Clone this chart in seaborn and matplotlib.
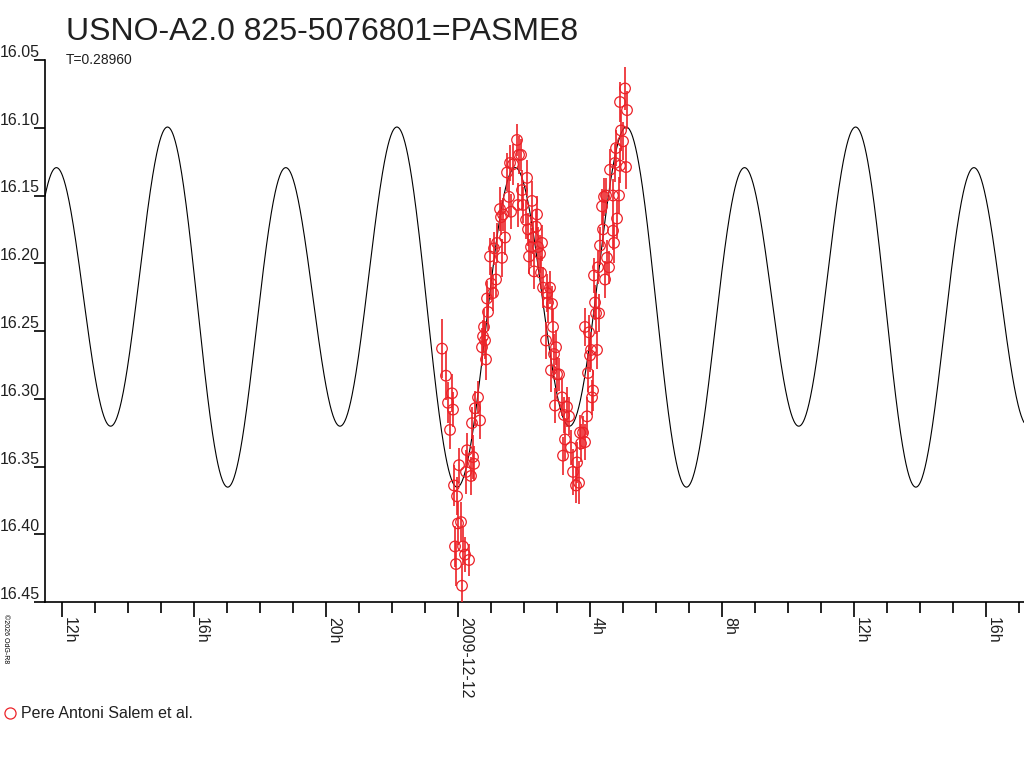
import numpy as np
import pandas as pd
import matplotlib
matplotlib.use('Agg')
import matplotlib.pyplot as plt
import seaborn as sns

# Observations: hours from 2009-12-12 00:00, magnitude, error
obs_hours = [-0.485, -0.364, -0.303, -0.242, -0.182, -0.152, -0.121, -0.091, -0.061, -0.030,
             0.000, 0.091, 0.121, 0.152, 0.030, 0.212, 0.242, 0.273, 0.333, 0.394,
             0.455, 0.485, 0.424, 0.515, 0.606, 0.667, 0.727, 0.758, 0.788, 0.818,
             0.848, 0.879, 0.909, 1.000, 1.061, 0.970, 1.091, 1.152, 1.182, 1.273,
             1.303, 1.333, 1.364, 1.424, 1.485, 1.576, 1.545, 1.606, 1.667, 1.788,
             1.818, 1.848, 1.939, 1.909, 1.970, 2.091, 2.061, 2.121, 2.152, 2.242,
             2.212, 2.273, 2.303, 2.394, 2.364, 2.424, 2.485, 2.545, 2.515, 2.576,
             2.697, 2.788, 2.848, 2.727, 2.879, 2.667, 2.970, 2.909, 2.818, 3.000,
             3.061, 3.152, 2.939, 3.303, 3.212, 3.364, 3.242, 3.424, 3.182, 3.606,
             3.485, 3.667, 3.576, 3.697, 3.727, 3.848, 3.788, 3.909, 4.091, 4.061,
             3.939, 4.030, 4.212, 4.000, 3.848, 3.970, 4.182, 4.152, 4.273, 4.121,
             4.242, 4.455, 4.515, 4.576, 4.303, 4.727, 4.394, 4.697, 4.818, 4.364,
             4.424, 4.485, 4.697, 4.879, 4.606, 4.758, 4.909, 5.091, 4.788, 5.000,
             4.939, 5.121, 4.909, 5.061]
obs_mag = [16.263, 16.283, 16.303, 16.323, 16.296, 16.308, 16.364, 16.409, 16.422, 16.372,
           16.392, 16.391, 16.438, 16.409, 16.349, 16.415, 16.354, 16.338, 16.419, 16.357,
           16.343, 16.348, 16.318, 16.307, 16.299, 16.316, 16.262, 16.254, 16.247, 16.257,
           16.271, 16.226, 16.236, 16.215, 16.222, 16.195, 16.189, 16.212, 16.185, 16.160,
           16.166, 16.196, 16.164, 16.181, 16.133, 16.126, 16.151, 16.162, 16.127, 16.109,
           16.157, 16.120, 16.146, 16.120, 16.157, 16.137, 16.168, 16.175, 16.195, 16.154,
           16.188, 16.181, 16.206, 16.164, 16.173, 16.188, 16.193, 16.185, 16.207, 16.218,
           16.222, 16.218, 16.230, 16.229, 16.247, 16.257, 16.262, 16.267, 16.279, 16.282,
           16.282, 16.299, 16.305, 16.306, 16.312, 16.313, 16.330, 16.336, 16.342, 16.347,
           16.354, 16.362, 16.364, 16.325, 16.333, 16.332, 16.325, 16.313, 16.294, 16.299,
           16.281, 16.264, 16.264, 16.268, 16.247, 16.251, 16.237, 16.229, 16.237, 16.209,
           16.203, 16.212, 16.196, 16.203, 16.187, 16.185, 16.175, 16.176, 16.167, 16.158,
           16.151, 16.150, 16.150, 16.150, 16.131, 16.126, 16.128, 16.129, 16.115, 16.110,
           16.102, 16.087, 16.081, 16.071]
obs_err = [0.022, 0.018, 0.015, 0.014, 0.014, 0.013, 0.015, 0.015, 0.016, 0.014,
           0.016, 0.015, 0.016, 0.014, 0.013, 0.013, 0.016, 0.013, 0.012, 0.014,
           0.016, 0.013, 0.012, 0.013, 0.012, 0.014, 0.014, 0.012, 0.013, 0.014,
           0.015, 0.013, 0.014, 0.012, 0.013, 0.014, 0.012, 0.013, 0.015, 0.016,
           0.013, 0.014, 0.012, 0.013, 0.014, 0.013, 0.014, 0.013, 0.015, 0.012,
           0.016, 0.014, 0.015, 0.012, 0.013, 0.013, 0.014, 0.012, 0.013, 0.015,
           0.014, 0.012, 0.013, 0.014, 0.012, 0.015, 0.014, 0.013, 0.012, 0.015,
           0.014, 0.012, 0.013, 0.015, 0.013, 0.014, 0.013, 0.015, 0.016, 0.013,
           0.012, 0.014, 0.013, 0.015, 0.013, 0.014, 0.016, 0.013, 0.014, 0.015,
           0.017, 0.016, 0.013, 0.013, 0.014, 0.013, 0.012, 0.014, 0.015, 0.013,
           0.014, 0.013, 0.014, 0.012, 0.014, 0.013, 0.015, 0.013, 0.014, 0.013,
           0.012, 0.014, 0.013, 0.012, 0.014, 0.015, 0.013, 0.014, 0.014, 0.013,
           0.014, 0.013, 0.012, 0.014, 0.015, 0.014, 0.013, 0.016, 0.013, 0.014,
           0.015, 0.014, 0.015, 0.016]

# Fitted light curve: period T (days), epoch of the brighter maximum (hours),
# mean magnitude and harmonic amplitudes
period_days = 0.28960
epoch_hours = -1.80
fit_mean = 16.22875
fit_cos = [-0.015, -0.11375]
fit_sin = [0.0225, 0.0]

tick_hours = [-12, -8, -4, 0, 4, 8, 12, 16]
tick_labels = ['12h', '16h', '20h', '2009-12-12', '4h', '8h', '12h', '16h']
mag_ticks = [16.05, 16.10, 16.15, 16.20, 16.25, 16.30, 16.35, 16.40, 16.45]

sns.set_theme(style='white')
plt.rcParams['font.family'] = ['Liberation Sans', 'DejaVu Sans']

red = '#ec2228'
x_min, x_max = -12.515, 17.15
grid = np.linspace(x_min, x_max, 2000)
phase = (grid - epoch_hours) / (period_days * 24)
model = fit_mean + sum(fit_cos[k] * np.cos(2 * np.pi * (k + 1) * phase)
                       + fit_sin[k] * np.sin(2 * np.pi * (k + 1) * phase) for k in range(2))
curve = pd.DataFrame({'hours': grid, 'mag': model})
obs = pd.DataFrame({'hours': obs_hours, 'mag': obs_mag, 'err': obs_err})

fig = plt.figure(figsize=(10.24, 7.68), dpi=100)
ax = fig.add_axes([45 / 1024, 1 - 602 / 768, 1 - 45 / 1024, 542 / 768])

sns.lineplot(data=curve, x='hours', y='mag', color='black', linewidth=0.8, ax=ax)
ax.errorbar(obs['hours'], obs['mag'], yerr=obs['err'], fmt='none',
            ecolor=red, elinewidth=1.2, capsize=0, zorder=3)
sns.scatterplot(data=obs, x='hours', y='mag', marker='o', s=58,
                facecolors='none', edgecolor=red, linewidth=0.9, ax=ax, zorder=4)

ax.set_xlim(x_min, x_max)
ax.set_ylim(16.45, 16.05)
ax.set_xlabel('')
ax.set_ylabel('')

for side in ['top', 'right']:
    ax.spines[side].set_visible(False)
for side in ['left', 'bottom']:
    ax.spines[side].set_color('black')
    ax.spines[side].set_linewidth(1.2)

ax.set_yticks(mag_ticks)
ax.set_yticklabels([f'{v:.2f}' for v in mag_ticks], fontsize=11.5, va='bottom', color='#202020')
ax.tick_params(axis='y', left=True, length=8, width=1.2, color='black', pad=-4)

ax.set_xticks(tick_hours)
ax.set_xticks(np.arange(-12, 18, 1), minor=True)
ax.set_xticklabels(tick_labels, fontsize=11.5, rotation=270, ha='left', va='top', color='#202020')
ax.tick_params(axis='x', which='major', bottom=True, length=11, width=1.2, color='black', pad=0)
ax.tick_params(axis='x', which='minor', bottom=True, length=8, width=1.2, color='black')
for lab in ax.get_xticklabels():
    lab.set_x(lab.get_position()[0])

fig.text(66 / 1024, 1 - 40 / 768, 'USNO-A2.0 825-5076801=PASME8', fontsize=23,
         ha='left', va='baseline', color='#202020')
fig.text(66 / 1024, 1 - 64 / 768, 'T=0.28960', fontsize=10, ha='left', va='baseline',
         color='#202020')
fig.text(2 / 1024, 1 - 614 / 768, '©2026 OdG-R8', fontsize=5, rotation=270,
         ha='left', va='top', color='black')

fig.lines.append(plt.Line2D([10 / 1024], [1 - 713 / 768], marker='o', markersize=8,
                            markerfacecolor='none', markeredgecolor=red, markeredgewidth=0.9,
                            transform=fig.transFigure))
fig.text(21 / 1024, 1 - 713 / 768, 'Pere Antoni Salem et al.', fontsize=11.5,
         ha='left', va='center', color='#202020')

fig.savefig('out.png', dpi=100)
